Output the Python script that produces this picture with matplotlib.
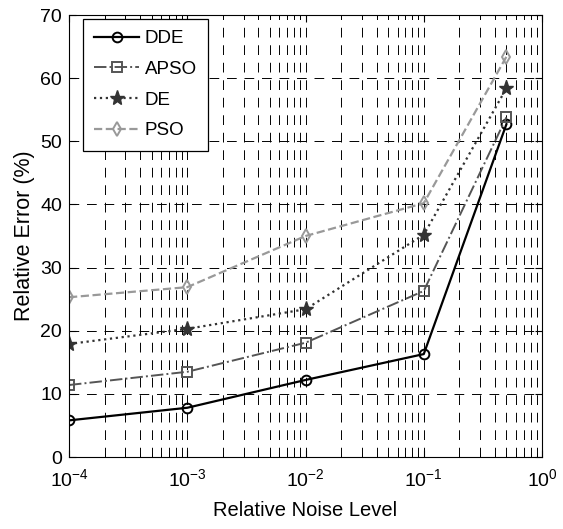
import matplotlib
matplotlib.use("Agg")
import matplotlib.pyplot as plt
import matplotlib.ticker as ticker

plt.rcParams["font.family"] = ["Liberation Sans", "DejaVu Sans"]

noise = [1e-4, 1e-3, 1e-2, 1e-1, 0.5]
dde = [5.8, 7.8, 12.2, 16.3, 52.7]
apso = [11.4, 13.5, 18.1, 26.3, 53.8]
de = [17.9, 20.3, 23.4, 35.2, 58.4]
pso = [25.3, 26.9, 35.0, 40.2, 63.4]

fig = plt.figure(figsize=(5.63, 5.29), dpi=100)
ax = fig.add_axes([0.1226, 0.1361, 0.8401, 0.8355])

ax.plot(noise, dde, "-", color="black", lw=1.6, marker="o", ms=7,
        mfc="none", mew=1.4, label="DDE")
ax.plot(noise, apso, "-.", color="#555555", lw=1.4, marker="s", ms=7,
        mfc="none", mew=1.4, label="APSO")
ax.plot(noise, de, ":", color="#333333", lw=1.6, marker="*", ms=11,
        label="DE")
ax.plot(noise, pso, "--", color="#999999", lw=1.6, marker="d", ms=7,
        mfc="none", mew=1.4, label="PSO")

ax.set_xscale("log")
ax.set_xlim(1e-4, 1)
ax.set_ylim(0, 70)
ax.yaxis.set_major_locator(ticker.MultipleLocator(10))
ax.xaxis.set_minor_locator(ticker.LogLocator(base=10, subs=range(2, 10)))
ax.xaxis.set_minor_formatter(ticker.NullFormatter())

# matlab style dashed grid, minor lines on x only
ax.grid(True, which="major", axis="both", ls=(0, (10, 8)), color="black", lw=0.7)
ax.grid(True, which="minor", axis="x", ls=(0, (10, 8)), color="black", lw=0.7)

ax.tick_params(which="both", direction="in", top=True, right=True,
               labelsize=14)
ax.tick_params(which="major", length=5)
ax.tick_params(which="minor", length=3)
ax.tick_params(axis="y", pad=5)
ax.tick_params(axis="x", pad=8)

ax.set_xlabel("Relative Noise Level", fontsize=14.5, labelpad=8)
ax.set_ylabel("Relative Error (%)", fontsize=15.5, labelpad=4)

leg = ax.legend(loc="upper left", bbox_to_anchor=(14 / 473, 1 - 4 / 442),
                borderaxespad=0, fontsize=13.5, fancybox=False,
                edgecolor="black", framealpha=1, handlelength=2.4,
                handletextpad=0.3, borderpad=0.6, labelspacing=0.72)
leg.get_frame().set_linewidth(0.9)

fig.savefig("out.png", dpi=100)
